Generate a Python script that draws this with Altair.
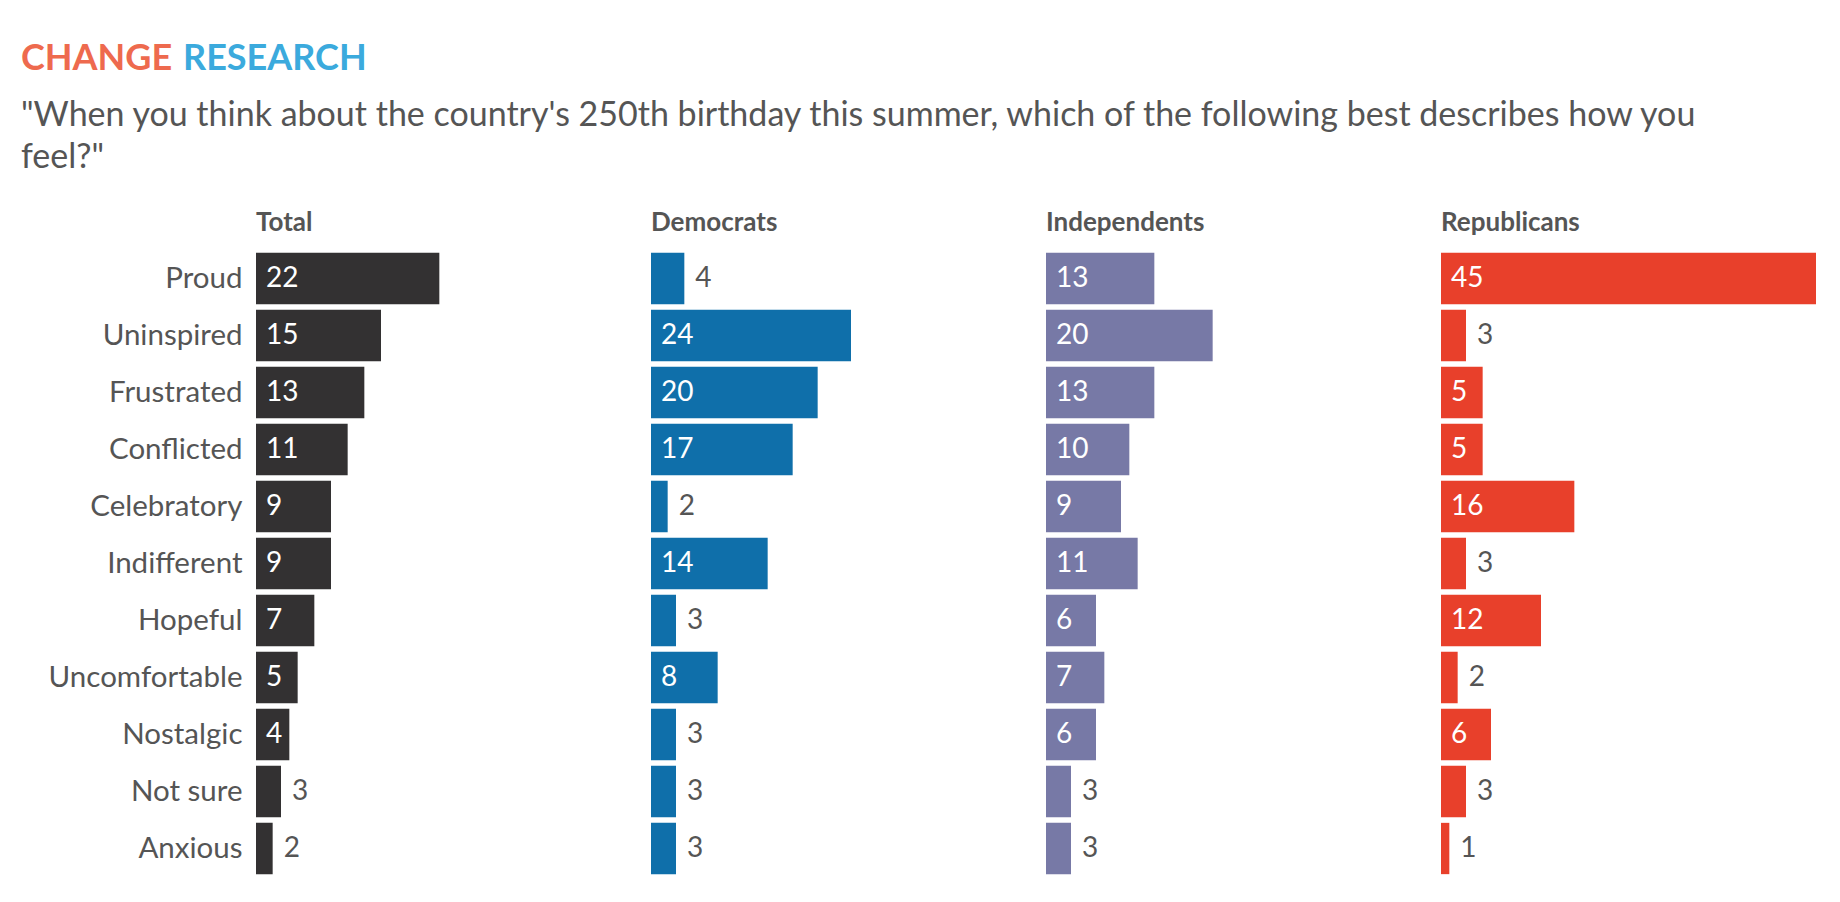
import pandas as pd
import altair as alt

FONT = "Lato"
GRAY = "#555555"

feelings = ["Proud", "Uninspired", "Frustrated", "Conflicted", "Celebratory", "Indifferent",
            "Hopeful", "Uncomfortable", "Nostalgic", "Not sure", "Anxious"]
total = [22, 15, 13, 11, 9, 9, 7, 5, 4, 3, 2]
democrats = [4, 24, 20, 17, 2, 14, 3, 8, 3, 3, 3]
independents = [13, 20, 13, 10, 9, 11, 6, 7, 6, 3, 3]
republicans = [45, 3, 5, 5, 16, 3, 12, 2, 6, 3, 1]

groups = ["Total", "Democrats", "Independents", "Republicans"]
series = [total, democrats, independents, republicans]
colors = ["#333132", "#0F6FAA", "#7779A6", "#E8402B"]

S = 1.173
PW = int(320 * S)
STEP = int(49.4 * S)
LABW = 245


def panel(i):
    df = pd.DataFrame({"feeling": feelings, "value": series[i]})
    thr = 4 if i == 0 else 5
    df["inside"] = df["value"] >= thr
    df["zero"] = 0
    y = alt.Y("feeling:N", sort=feelings, title=None,
              axis=alt.Axis(labelFont=FONT, labelFontSize=29.5, labelColor=GRAY, labelLimit=0,
                            labelPadding=14, ticks=False, domain=False) if i == 0 else None)
    sc = alt.Scale(domain=[0, 45])
    base = alt.Chart(df).encode(y=y)
    bars = base.mark_bar(color=colors[i]).encode(x=alt.X("value:Q", scale=sc, axis=None))
    inn = base.transform_filter("datum.inside").mark_text(
        align="left", dx=10, font=FONT, fontSize=28, color="white"
    ).encode(x=alt.X("zero:Q", scale=sc, axis=None), text="value:Q")
    out = base.transform_filter("!datum.inside").mark_text(
        align="left", dx=11, font=FONT, fontSize=28, color=GRAY
    ).encode(x=alt.X("value:Q", scale=sc, axis=None), text="value:Q")
    return (bars + inn + out).properties(
        width=PW,
        height=alt.Step(STEP),
        title=alt.TitleParams(groups[i], anchor="start", frame="group", font=FONT,
                              fontSize=26, fontWeight="bold", color=GRAY, offset=14),
    )


panels = alt.hconcat(*[panel(i) for i in range(4)], spacing=20)

head_txt = ["CHANGE", "RESEARCH",
            "\"When you think about the country's 250th birthday this summer, which of the following best describes how you",
            "feel?\""]
head_col = ["#EE6A4E", "#3BAADD", GRAY, GRAY]
head_px = [10, 172, 10, 10]
head_py = [46, 46, 103, 145]


def htext(k):
    d = pd.DataFrame({"txt": [head_txt[k]], "px": [head_px[k]], "py": [head_py[k]]})
    return alt.Chart(d).mark_text(
        align="left", baseline="middle", font=FONT, color=head_col[k],
        fontSize=36 if k < 2 else 34, fontWeight="bold" if k < 2 else "normal",
    ).encode(
        x=alt.X("px:Q", scale=alt.Scale(domain=[0, 1500], range=[-LABW, 1500 - LABW]), axis=None),
        y=alt.Y("py:Q", scale=alt.Scale(domain=[0, 197], range=[0, 197]), axis=None),
        text="txt:N",
    )


header = alt.layer(*[htext(k) for k in range(4)]).properties(width=1500, height=197)

chart = alt.vconcat(header, panels, spacing=0).properties(
    padding={"left": 13, "top": 5, "right": 0, "bottom": 5}
).configure_view(stroke=None).configure_concat(spacing=0)
chart.save("out.html", embed_options={"renderer": "svg", "actions": False})
